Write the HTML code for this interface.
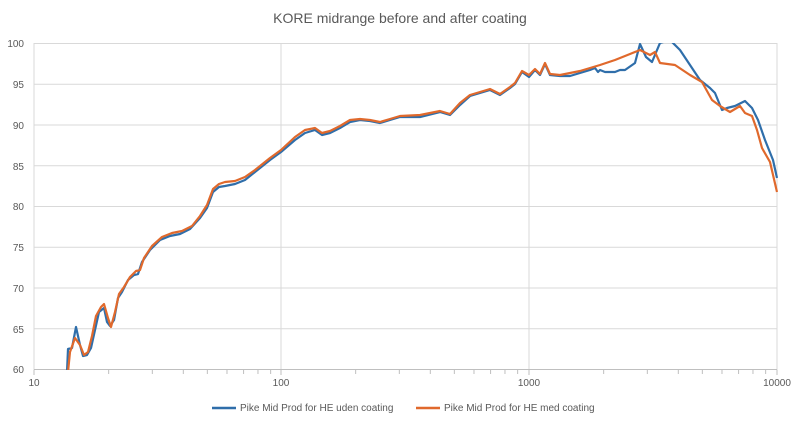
<!DOCTYPE html>
<html><head><meta charset="utf-8"><style>
body{margin:0;background:#fff;}
text{font-family:"Liberation Sans",sans-serif;fill:#595959;}
</style></head><body>
<svg width="800" height="425" xmlns="http://www.w3.org/2000/svg">
<rect width="800" height="425" fill="#fff"/>
<text x="400" y="23" font-size="14" text-anchor="middle" fill="#404040">KORE midrange before and after coating</text>
<g stroke="#d9d9d9" stroke-width="1">
<line x1="34" y1="43.5" x2="777" y2="43.5"/>
<line x1="34" y1="84.3" x2="777" y2="84.3"/>
<line x1="34" y1="125" x2="777" y2="125"/>
<line x1="34" y1="165.8" x2="777" y2="165.8"/>
<line x1="34" y1="206.5" x2="777" y2="206.5"/>
<line x1="34" y1="247.3" x2="777" y2="247.3"/>
<line x1="34" y1="288" x2="777" y2="288"/>
<line x1="34" y1="328.8" x2="777" y2="328.8"/>
<line x1="34" y1="43" x2="34" y2="370"/>
<line x1="281" y1="43" x2="281" y2="370"/>
<line x1="529" y1="43" x2="529" y2="370"/>
<line x1="777" y1="43" x2="777" y2="370"/>
</g>
<line x1="34" y1="369.5" x2="777" y2="369.5" stroke="#bfbfbf"/>
<g stroke="#bfbfbf" id="ticks"></g>
<g font-size="10" text-anchor="end">
<text x="24" y="47">100</text><text x="24" y="88">95</text><text x="24" y="129">90</text><text x="24" y="170">85</text><text x="24" y="210">80</text><text x="24" y="251">75</text><text x="24" y="292">70</text><text x="24" y="333">65</text><text x="24" y="373">60</text>
</g>
<g font-size="10" text-anchor="middle">
<text x="34" y="386">10</text><text x="281" y="386">100</text><text x="529" y="386">1000</text><text x="777" y="386">10000</text>
</g>
<svg x="34" y="43" width="744" height="327" viewBox="34 43 744 327" overflow="hidden">
<polyline fill="none" stroke="#2f6eaa" stroke-width="2.2" stroke-linejoin="round" points="67,372 68,349 72,348 76,327 80,345 83,356 87,355 91,348 95,330 99,312 104,308 107,322 110,326 114,320 118,298 122,292 128,280 134,275 138,274 142,262 150,250 160,240 170,236 180,234 190,229 200,218 207,208 213,192 219,187 225,186 235,184 245,180 255,172 270,160 281,152 295,140 305,133 315,130 322,135 330,133 340,128 350,122 360,120 370,121 380,123 390,120 400,117 420,117 440,112 450,115 460,105 470,96 480,93 490,90 500,95 510,88 515,84 522,72 529,77 535,70 540,75 545,64 550,75 560,76 570,76 580,73 590,70 595,68 598,72 600,70 605,72 615,72 620,70 625,70 635,63 640,44 646,57 652,62 660,43 670,40 680,50 690,65 700,80 710,88 715,93 722,110 727,108 735,106 745,101 752,108 758,120 765,140 773,160 777,178"/>
<polyline fill="none" stroke="#e0692c" stroke-width="2.2" stroke-linejoin="round" points="68,372 70,352 75,338 80,345 84,355 88,352 92,336 96,316 101,307 104,304 108,318 111,327 115,312 119,294 124,287 130,277 136,271 140,270 144,258 152,246 162,237 172,233 182,231 192,226 200,216 207,205 213,189 219,184 225,182 235,181 245,177 255,170 270,158 281,150 295,137 305,130 315,128 322,133 330,131 340,126 350,120 360,119 370,120 380,122 390,119 400,116 420,115 440,111 450,114 460,103 470,95 480,92 490,89 500,94 510,87 515,83 522,71 529,75 535,69 540,74 545,63 550,74 560,75 570,73 580,71 590,68 600,65 615,60 630,54 640,50 650,55 655,52 660,63 675,65 690,75 702,82 712,100 720,106 730,112 740,106 745,113 752,116 757,130 762,148 770,162 777,192"/>
</svg>
<line x1="212" y1="408" x2="236" y2="408" stroke="#2f6eaa" stroke-width="2.5"/>
<text x="240" y="411" font-size="10">Pike Mid Prod for HE uden coating</text>
<line x1="416" y1="408" x2="440" y2="408" stroke="#e0692c" stroke-width="2.5"/>
<text x="444" y="411" font-size="10">Pike Mid Prod for HE med coating</text>
</svg>
<script>
var g=document.getElementById('ticks'),s='';
[34,281,529].forEach(function(b){for(var k=2;k<=9;k++){var x=b+248*Math.log10(k);s+='<line x1="'+x+'" y1="370" x2="'+x+'" y2="374"/>';}});
[34,281,529,777].forEach(function(x){s+='<line x1="'+x+'" y1="370" x2="'+x+'" y2="375"/>';});
g.innerHTML=s;
</script>
</body></html>
